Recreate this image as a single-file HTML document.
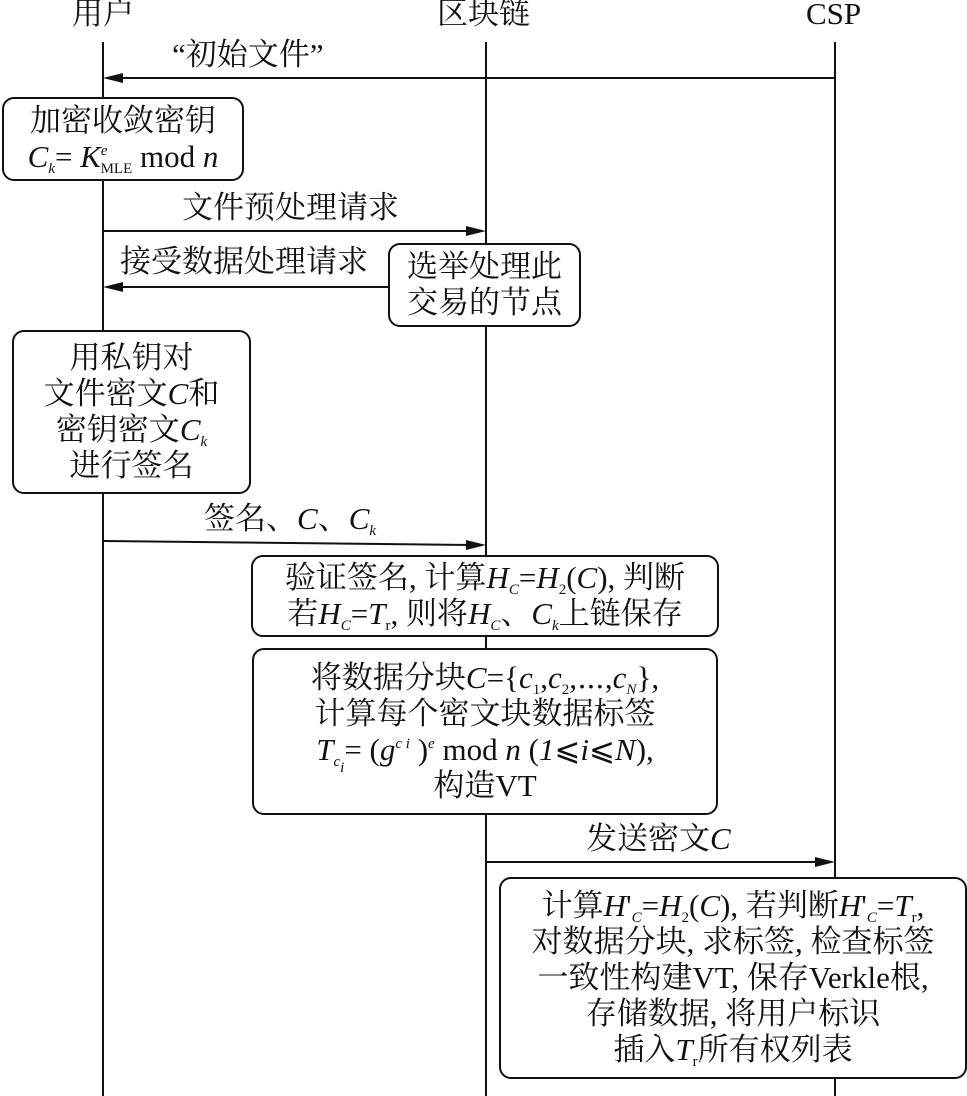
<!DOCTYPE html>
<html><head><meta charset="utf-8"><style>
body{margin:0;width:967px;height:1096px;background:#fff;position:relative;overflow:hidden;font-family:"Liberation Serif","Noto Serif CJK SC",serif;color:#111}
.t{position:absolute;font-size:31px;white-space:nowrap;line-height:36px}
.b{position:absolute;border:2px solid #111;border-radius:12px;box-sizing:border-box;display:flex;flex-direction:column;justify-content:center;align-items:center;font-size:31px;line-height:36px;background:#fff;white-space:nowrap}
.b>div{height:36px;line-height:36px}
i{font-style:italic}
sub,sup{font-size:15px;line-height:0;vertical-align:0;position:relative}
sub{top:6px}
sup{top:-12px}
svg{position:absolute;left:0;top:0}
</style></head><body>
<svg width="967" height="1096">
<g stroke="#111" stroke-width="2">
<line x1="103" y1="42" x2="103" y2="1096"/>
<line x1="486" y1="42" x2="486" y2="1096"/>
<line x1="835" y1="42" x2="835" y2="1096"/>
<line x1="835" y1="78" x2="118" y2="78"/>
<line x1="103" y1="231" x2="471" y2="231"/>
<line x1="388" y1="287" x2="118" y2="287"/>
<line x1="103" y1="541" x2="471" y2="545"/>
<line x1="486" y1="862" x2="820" y2="862"/>
</g>
<g fill="#111">
<polygon points="103,78 123,73 123,83"/>
<polygon points="486,231 466,226 466,236"/>
<polygon points="103,287 123,282 123,292"/>
<polygon points="486,545 466,540 466,550"/>
<polygon points="835,862 815,857 815,867"/>
</g>
</svg>
<div class="t" style="left:72px;top:-4px">用户</div>
<div class="t" style="left:437px;top:-4px">区块链</div>
<div class="t" style="left:806px;top:-4px">CSP</div>
<div class="t" style="left:172px;top:37px">“初始文件”</div>
<div class="b" style="left:2px;top:97px;width:242px;height:84px"><div>加密收敛密钥</div><div><i>C<sub>k</sub></i>= <i>K</i><sup><i>e</i></sup><sub style="margin-left:-7px">MLE</sub> mod <i>n</i></div></div>
<div class="t" style="left:182px;top:190px">文件预处理请求</div>
<div class="t" style="left:120px;top:244px">接受数据处理请求</div>
<div class="b" style="left:388px;top:243px;width:193px;height:84px"><div>选举处理此</div><div>交易的节点</div></div>
<div class="b" style="left:12px;top:330px;width:239px;height:164px"><div>用私钥对</div><div>文件密文<i>C</i>和</div><div>密钥密文<i>C<sub>k</sub></i></div><div>进行签名</div></div>
<div class="t" style="left:204px;top:501px">签名、<i>C</i>、<i>C<sub>k</sub></i></div>
<div class="b" style="left:251px;top:555px;width:468px;height:82px"><div>验证签名, 计算<i>H<sub>C</sub></i>=<i>H</i><sub>2</sub>(<i>C</i>), 判断</div><div>若<i>H<sub>C</sub></i>=<i>T</i><sub>r</sub>, 则将<i>H<sub>C</sub></i>、<i>C<sub>k</sub></i>上链保存</div></div>
<div class="b" style="left:252px;top:648px;width:466px;height:167px"><div>将数据分块<i>C</i>={<i>c</i><sub>1</sub>,<i>c</i><sub>2</sub>,⋯,<i>c<sub>N</sub></i>},</div><div>计算每个密文块数据标签</div><div><i>T<sub>c<sub>i</sub></sub></i>= (<i>g</i><sup><i>c i</i></sup> )<sup><i>e</i></sup> mod <i>n</i> (<i>1</i>⩽<i>i</i>⩽<i>N</i>),</div><div>构造VT</div></div>
<div class="t" style="left:586px;top:821px">发送密文<i>C</i></div>
<div class="b" style="left:499px;top:877px;width:468px;height:202px"><div>计算<i>H</i>'<sub><i>C</i></sub>=<i>H</i><sub>2</sub>(<i>C</i>), 若判断<i>H</i>'<sub><i>C</i></sub>=<i>T</i><sub>r</sub>,</div><div>对数据分块, 求标签, 检查标签</div><div>一致性构建VT, 保存Verkle根,</div><div>存储数据, 将用户标识</div><div>插入<i>T</i><sub>r</sub>所有权列表</div></div>
</body></html>
